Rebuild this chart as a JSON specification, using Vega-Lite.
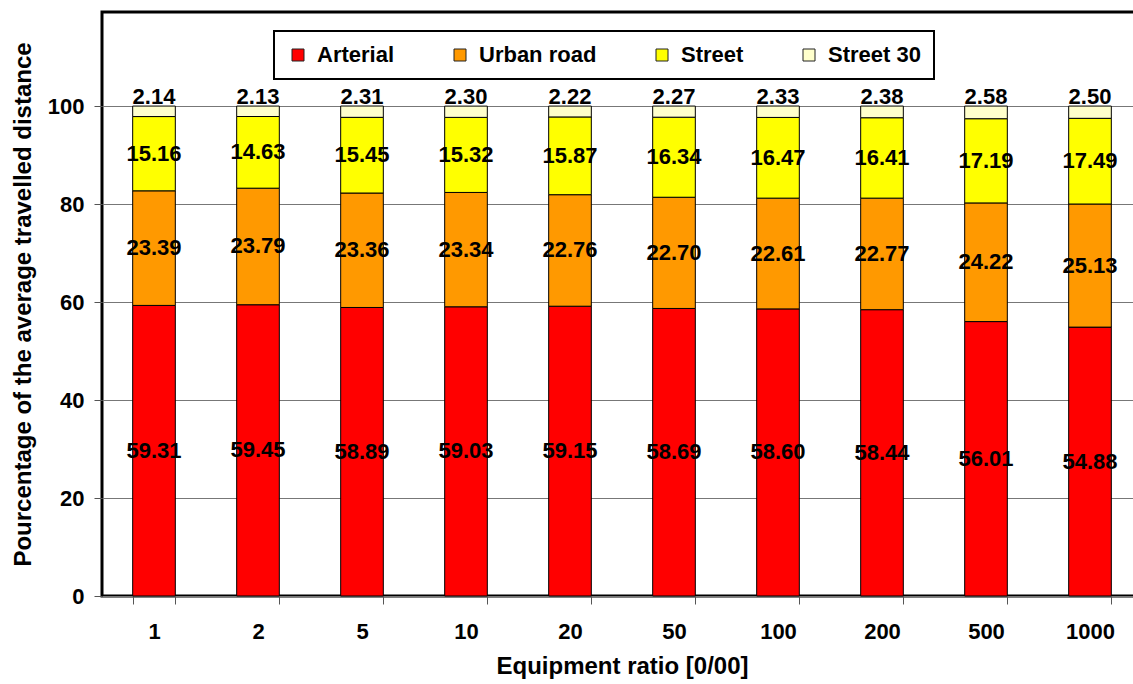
{
  "$schema": "https://vega.github.io/schema/vega-lite/v6.json",
  "autosize": "none",
  "width": 1040,
  "height": 584,
  "padding": {"left": 102, "top": 12, "right": 0, "bottom": 88},
  "background": "white",
  "config": {
    "font": "Liberation Sans",
    "view": {"stroke": "black", "strokeWidth": 3},
    "axis": {"labelFont": "Liberation Sans", "titleFont": "Liberation Sans", "labelFontWeight": "bold", "titleFontWeight": "bold", "labelColor": "black", "titleColor": "black", "labelFontSize": 22, "titleFontSize": 24}
  },
  "data": {"values": [
    {"ratio": 1, "type": "Arterial", "value": 59.31, "k": 1},
    {"ratio": 1, "type": "Urban road", "value": 23.39, "k": 2},
    {"ratio": 1, "type": "Street", "value": 15.16, "k": 3},
    {"ratio": 1, "type": "Street 30", "value": 2.14, "k": 4},
    {"ratio": 2, "type": "Arterial", "value": 59.45, "k": 1},
    {"ratio": 2, "type": "Urban road", "value": 23.79, "k": 2},
    {"ratio": 2, "type": "Street", "value": 14.63, "k": 3},
    {"ratio": 2, "type": "Street 30", "value": 2.13, "k": 4},
    {"ratio": 5, "type": "Arterial", "value": 58.89, "k": 1},
    {"ratio": 5, "type": "Urban road", "value": 23.36, "k": 2},
    {"ratio": 5, "type": "Street", "value": 15.45, "k": 3},
    {"ratio": 5, "type": "Street 30", "value": 2.31, "k": 4},
    {"ratio": 10, "type": "Arterial", "value": 59.03, "k": 1},
    {"ratio": 10, "type": "Urban road", "value": 23.34, "k": 2},
    {"ratio": 10, "type": "Street", "value": 15.32, "k": 3},
    {"ratio": 10, "type": "Street 30", "value": 2.30, "k": 4},
    {"ratio": 20, "type": "Arterial", "value": 59.15, "k": 1},
    {"ratio": 20, "type": "Urban road", "value": 22.76, "k": 2},
    {"ratio": 20, "type": "Street", "value": 15.87, "k": 3},
    {"ratio": 20, "type": "Street 30", "value": 2.22, "k": 4},
    {"ratio": 50, "type": "Arterial", "value": 58.69, "k": 1},
    {"ratio": 50, "type": "Urban road", "value": 22.70, "k": 2},
    {"ratio": 50, "type": "Street", "value": 16.34, "k": 3},
    {"ratio": 50, "type": "Street 30", "value": 2.27, "k": 4},
    {"ratio": 100, "type": "Arterial", "value": 58.60, "k": 1},
    {"ratio": 100, "type": "Urban road", "value": 22.61, "k": 2},
    {"ratio": 100, "type": "Street", "value": 16.47, "k": 3},
    {"ratio": 100, "type": "Street 30", "value": 2.33, "k": 4},
    {"ratio": 200, "type": "Arterial", "value": 58.44, "k": 1},
    {"ratio": 200, "type": "Urban road", "value": 22.77, "k": 2},
    {"ratio": 200, "type": "Street", "value": 16.41, "k": 3},
    {"ratio": 200, "type": "Street 30", "value": 2.38, "k": 4},
    {"ratio": 500, "type": "Arterial", "value": 56.01, "k": 1},
    {"ratio": 500, "type": "Urban road", "value": 24.22, "k": 2},
    {"ratio": 500, "type": "Street", "value": 17.19, "k": 3},
    {"ratio": 500, "type": "Street 30", "value": 2.58, "k": 4},
    {"ratio": 1000, "type": "Arterial", "value": 54.88, "k": 1},
    {"ratio": 1000, "type": "Urban road", "value": 25.13, "k": 2},
    {"ratio": 1000, "type": "Street", "value": 17.49, "k": 3},
    {"ratio": 1000, "type": "Street 30", "value": 2.50, "k": 4}
  ]},
  "transform": [
    {"stack": "value", "groupby": ["ratio"], "sort": [{"field": "k", "order": "ascending"}], "as": ["y0", "y1"]}
  ],
  "encoding": {
    "x": {
      "field": "ratio", "type": "ordinal",
      "scale": {"paddingInner": 0.59, "paddingOuter": 0.295},
      "axis": {"title": "Equipment ratio [0/00]", "labelAngle": 0, "labelPadding": 17, "tickBand": "extent", "tickSize": 8, "tickColor": "#555", "domain": false, "titlePadding": 12}
    }
  },
  "layer": [
    {
      "mark": {"type": "bar", "stroke": "black", "strokeWidth": 1},
      "encoding": {
        "y": {"field": "y0", "type": "quantitative",
          "scale": {"domain": [0, 119.2], "nice": false},
          "axis": {"title": "Pourcentage of the average travelled distance", "values": [0, 20, 40, 60, 80, 100], "grid": true, "gridColor": "#777", "gridWidth": 1, "tickSize": 8, "tickColor": "#555", "labelPadding": 10, "domain": false, "titlePadding": 12}},
        "y2": {"field": "y1"},
        "color": {
          "field": "type", "type": "nominal",
          "scale": {"domain": ["Arterial", "Urban road", "Street", "Street 30"], "range": ["#FF0000", "#FF9900", "#FFFF00", "#FFFFCC"]},
          "legend": {
            "orient": "none", "legendX": 172, "legendY": 19, "direction": "horizontal", "columns": 4,
            "title": null, "padding": 13, "strokeColor": "black", "fillColor": "white",
            "labelFont": "Liberation Sans", "labelFontWeight": "bold", "labelFontSize": 22, "labelColor": "black",
            "symbolType": "square", "symbolSize": 144, "symbolStrokeColor": "#222", "symbolStrokeWidth": 1,
            "columnPadding": 54, "labelOffset": 8, "labelLimit": 300,
            "encode": {"legend": {"update": {"strokeWidth": {"value": 2}}}}
          }
        }
      }
    },
    {
      "transform": [
        {"filter": "datum.type !== 'Street 30'"},
        {"calculate": "(datum.y0 + datum.y1) / 2", "as": "ymid"}
      ],
      "mark": {"type": "text", "font": "Liberation Sans", "fontWeight": "bold", "fontSize": 22, "baseline": "middle", "align": "center", "color": "black"},
      "encoding": {
        "y": {"field": "ymid", "type": "quantitative"},
        "text": {"field": "value", "type": "quantitative", "format": ".2f"}
      }
    },
    {
      "transform": [{"filter": "datum.type === 'Street 30'"}],
      "mark": {"type": "text", "font": "Liberation Sans", "fontWeight": "bold", "fontSize": 22, "baseline": "alphabetic", "align": "center", "color": "black", "dy": -2},
      "encoding": {
        "y": {"field": "y1", "type": "quantitative"},
        "text": {"field": "value", "type": "quantitative", "format": ".2f"}
      }
    }
  ]
}
